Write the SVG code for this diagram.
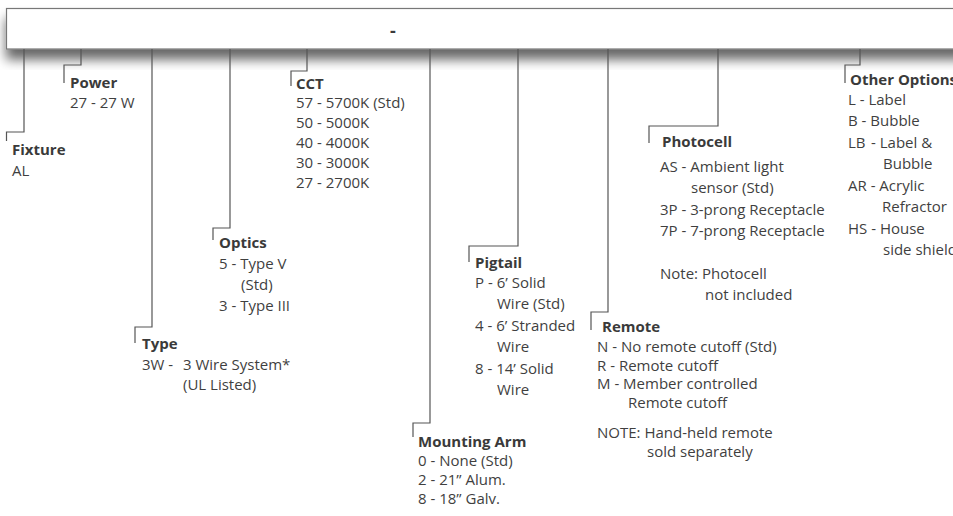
<svg xmlns="http://www.w3.org/2000/svg" width="953" height="516" viewBox="0 0 953 516">
<defs>
<filter id="sh" x="-5%" y="-50%" width="110%" height="200%">
<feGaussianBlur in="SourceAlpha" stdDeviation="6"/>
<feOffset dx="0" dy="10" result="b"/>
<feComponentTransfer><feFuncA type="linear" slope="0.6"/></feComponentTransfer>
<feMerge><feMergeNode/><feMergeNode in="SourceGraphic"/></feMerge>
</filter>
</defs>
<style>
text{font-family:"Open Sans","Liberation Sans",sans-serif;font-size:15px;fill:#3f3f3f}
.h{font-weight:bold;fill:#3a3a3a}
.c{fill:none;stroke:#555;stroke-width:1.2}
</style>
<rect width="953" height="516" fill="#fff"/>
<g id="header">
<rect x="6.5" y="8.5" width="960" height="40.5" fill="#fff" stroke="#777" stroke-width="1.2" filter="url(#sh)"/>
<text x="393" y="37" class="h" style="font-size:18px" text-anchor="middle">-</text>
</g>
<g id="connectors">
<path class="c" d="M24,49V132H6.5V141"/>
<path class="c" d="M81,49V65H64V83"/>
<path class="c" d="M152,49V327H135V343"/>
<path class="c" d="M230,49V228H213V240"/>
<path class="c" d="M307,49V71H291V86"/>
<path class="c" d="M430,49V423H413V437"/>
<path class="c" d="M518,49V246H469V262"/>
<path class="c" d="M608,49V312H591V330"/>
<path class="c" d="M718,49V126H649V143"/>
<path class="c" d="M860,49V65H845V83"/>
</g>
<g id="fixture">
<text x="12" y="155" class="h">Fixture</text>
<text x="12" y="176">AL</text>
</g>
<g id="power">
<text x="70" y="88" class="h">Power</text>
<text x="70" y="108">27 - 27 W</text>
</g>
<g id="type">
<text x="142" y="349" class="h">Type</text>
<text x="142" y="370">3W -<tspan x="183">3 Wire System*</tspan></text>
<text x="183" y="390">(UL Listed)</text>
</g>
<g id="optics">
<text x="219" y="248" class="h">Optics</text>
<text x="219" y="269">5 - Type V</text>
<text x="241" y="290">(Std)</text>
<text x="219" y="311">3 - Type III</text>
</g>
<g id="cct">
<text x="296" y="89" class="h">CCT</text>
<text x="296" y="108">57 - 5700K (Std)</text>
<text x="296" y="128">50 - 5000K</text>
<text x="296" y="148">40 - 4000K</text>
<text x="296" y="168">30 - 3000K</text>
<text x="296" y="188">27 - 2700K</text>
</g>
<g id="mounting-arm">
<text x="418" y="447" class="h">Mounting Arm</text>
<text x="418" y="466">0 - None (Std)</text>
<text x="418" y="485">2 - 21” Alum.</text>
<text x="418" y="504">8 - 18” Galv.</text>
</g>
<g id="pigtail">
<text x="475" y="268" class="h">Pigtail</text>
<text x="475" y="288">P - 6’ Solid</text>
<text x="497" y="309">Wire (Std)</text>
<text x="475" y="331">4 - 6’ Stranded</text>
<text x="497" y="352">Wire</text>
<text x="475" y="374">8 - 14’ Solid</text>
<text x="497" y="395">Wire</text>
</g>
<g id="remote">
<text x="602" y="332" class="h">Remote</text>
<text x="597" y="352">N - No remote cutoff (Std)</text>
<text x="597" y="370.5">R - Remote cutoff</text>
<text x="597" y="389">M - Member controlled</text>
<text x="628" y="407.5">Remote cutoff</text>
<text x="597" y="438">NOTE: Hand-held remote</text>
<text x="647" y="457">sold separately</text>
</g>
<g id="photocell">
<text x="662" y="147" class="h">Photocell</text>
<text x="660" y="172">AS - Ambient light</text>
<text x="691" y="193">sensor (Std)</text>
<text x="660" y="215">3P - 3-prong Receptacle</text>
<text x="660" y="236">7P - 7-prong Receptacle</text>
<text x="660" y="279">Note: Photocell</text>
<text x="705" y="300">not included</text>
</g>
<g id="other-options">
<text x="850" y="85" class="h">Other Options</text>
<text x="848" y="105">L - Label</text>
<text x="848" y="126">B - Bubble</text>
<text x="848" y="148">LB<tspan x="871">- Label &amp;</tspan></text>
<text x="883" y="169">Bubble</text>
<text x="848" y="191">AR - Acrylic</text>
<text x="882" y="212">Refractor</text>
<text x="848" y="234">HS - House</text>
<text x="883" y="255">side shield</text>
</g>
</svg>
